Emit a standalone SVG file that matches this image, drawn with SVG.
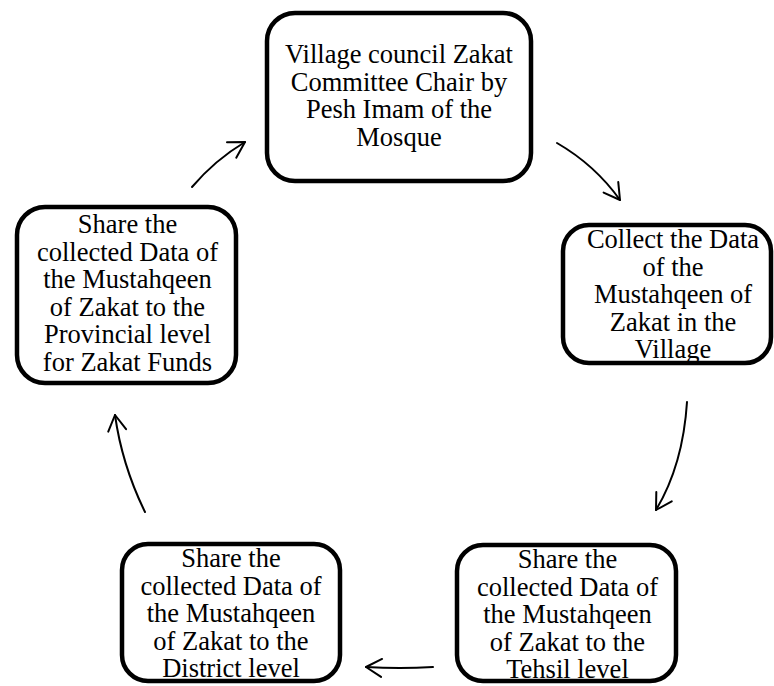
<svg xmlns="http://www.w3.org/2000/svg" width="774" height="686" viewBox="0 0 774 686">
<style>
.box{fill:#fff;stroke:#000;stroke-width:4.5}
.t{font-family:"Liberation Serif","Times New Roman",serif;font-size:26.5px;text-anchor:middle;fill:#000}
.c{fill:none;stroke:#000;stroke-width:2;stroke-linecap:round}
</style>
<defs>
<marker id="ah" markerUnits="userSpaceOnUse" markerWidth="40" markerHeight="40" refX="0" refY="0" viewBox="-20 -20 40 40" orient="auto" overflow="visible">
<path d="M-15.6,-9 L0,0 L-15.6,9" fill="none" stroke="#000" stroke-width="2" stroke-linecap="round" stroke-linejoin="round"/>
</marker>
</defs>
<rect width="774" height="686" fill="#fff"/>
<g id="connectors">
<path class="c" d="M192,187 Q215,160 245,142" marker-end="url(#ah)"/>
<path class="c" d="M557,143 Q595,165 620,200" marker-end="url(#ah)"/>
<path class="c" d="M687,402 Q683,465 656,510" marker-end="url(#ah)"/>
<path class="c" d="M433,667 Q400,669 366,667" marker-end="url(#ah)"/>
<path class="c" d="M145,512 Q122,465 115,415" marker-end="url(#ah)"/>
</g>
<g id="node-village-council">
<rect class="box" x="267" y="13" width="264" height="168" rx="28"/>
<text class="t" x="399" y="63">Village council Zakat</text>
<text class="t" x="399" y="90.5">Committee Chair by</text>
<text class="t" x="399" y="118">Pesh Imam of the</text>
<text class="t" x="399" y="145.5">Mosque</text>
</g>
<g id="node-collect">
<rect class="box" x="563" y="225" width="208" height="138" rx="26"/>
<text class="t" x="673" y="248">Collect the Data</text>
<text class="t" x="673" y="275.5">of the</text>
<text class="t" x="673" y="303">Mustahqeen of</text>
<text class="t" x="673" y="330.5">Zakat in the</text>
<text class="t" x="673" y="358">Village</text>
</g>
<g id="node-tehsil">
<rect class="box" x="457" y="545" width="219" height="136" rx="26"/>
<text class="t" x="567.5" y="568">Share the</text>
<text class="t" x="567.5" y="595.5">collected Data of</text>
<text class="t" x="567.5" y="623">the Mustahqeen</text>
<text class="t" x="567.5" y="650.5">of Zakat to the</text>
<text class="t" x="567.5" y="678">Tehsil level</text>
</g>
<g id="node-district">
<rect class="box" x="122" y="544" width="218" height="137" rx="26"/>
<text class="t" x="231" y="567">Share the</text>
<text class="t" x="231" y="594.5">collected Data of</text>
<text class="t" x="231" y="622">the Mustahqeen</text>
<text class="t" x="231" y="649.5">of Zakat to the</text>
<text class="t" x="231" y="677">District level</text>
</g>
<g id="node-provincial">
<rect class="box" x="17" y="207" width="219" height="176" rx="28"/>
<text class="t" x="127.5" y="233">Share the</text>
<text class="t" x="127.5" y="260.5">collected Data of</text>
<text class="t" x="127.5" y="288">the Mustahqeen</text>
<text class="t" x="127.5" y="315.5">of Zakat to the</text>
<text class="t" x="127.5" y="343">Provincial level</text>
<text class="t" x="127.5" y="370.5">for Zakat Funds</text>
</g>
</svg>
